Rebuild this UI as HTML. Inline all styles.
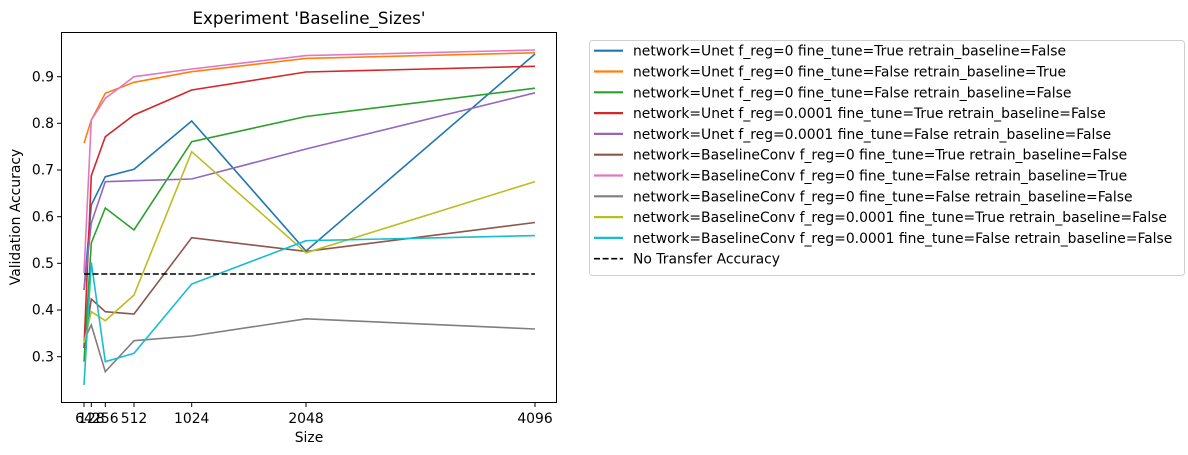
<!DOCTYPE html>
<html><head><meta charset="utf-8"><style>body{margin:0;background:#fff}svg{display:block;font-family:"DejaVu Sans",sans-serif}</style></head><body>
<svg width="1188" height="455" viewBox="0 0 1188 455" xmlns="http://www.w3.org/2000/svg">
<text x="309" y="24" font-size="16.7" text-anchor="middle">Experiment 'Baseline_Sizes'</text>
<g fill="none" stroke-width="1.6">
<polyline stroke="#1f77b4" points="84,290 91.3,205 105.3,176.7 134,169.3 191.7,121 306,251 535,54"/>
<polyline stroke="#ff7f0e" points="84,143.3 91.3,120 105.3,93.3 134,82.3 191.7,71.7 306,58.4 535,52.8"/>
<polyline stroke="#2ca02c" points="84,361.7 91.3,243 105.3,208 134,230 191.7,141.7 306,116.5 535,88.2"/>
<polyline stroke="#d62728" points="84,348 91.3,175.7 105.3,136.7 134,115 191.7,90 306,72 535,66.3"/>
<polyline stroke="#9467bd" points="84,290 91.3,223 105.3,181.7 134,180.7 191.7,179 306,149 535,92.8"/>
<polyline stroke="#8c564b" points="84,348 91.3,299 105.3,311.7 134,314 191.7,237.7 306,251.4 535,222.5"/>
<polyline stroke="#e377c2" points="84,273 91.3,120 105.3,98.3 134,76.7 191.7,69 306,55.6 535,50"/>
<polyline stroke="#7f7f7f" points="84,340 91.3,325 105.3,371.7 134,340.7 191.7,336 306,318.8 535,329"/>
<polyline stroke="#bcbd22" points="84,343 91.3,311.7 105.3,320.7 134,295 191.7,151.7 306,252.8 535,181.6"/>
<polyline stroke="#17becf" points="84,385 91.3,262.3 105.3,361.7 134,353.3 191.7,284 306,240.7 535,235.6"/>
<line x1="84" y1="274" x2="535" y2="274" stroke="#000" stroke-dasharray="6,2.6"/>
</g>
<rect x="61.5" y="32.5" width="495" height="370" fill="none" stroke="#000" stroke-width="1"/>
<g stroke="#000" stroke-width="1">
<line x1="84" y1="403" x2="84" y2="407"/><line x1="91.3" y1="403" x2="91.3" y2="407"/><line x1="105.3" y1="403" x2="105.3" y2="407"/><line x1="134" y1="403" x2="134" y2="407"/><line x1="191.7" y1="403" x2="191.7" y2="407"/><line x1="306" y1="403" x2="306" y2="407"/><line x1="535" y1="403" x2="535" y2="407"/>
<line x1="57" y1="76.7" x2="61" y2="76.7"/><line x1="57" y1="123.3" x2="61" y2="123.3"/><line x1="57" y1="170" x2="61" y2="170"/><line x1="57" y1="216.7" x2="61" y2="216.7"/><line x1="57" y1="263.3" x2="61" y2="263.3"/><line x1="57" y1="310" x2="61" y2="310"/><line x1="57" y1="356.7" x2="61" y2="356.7"/>
</g>
<g font-size="13.9" text-anchor="end">
<text x="54" y="81.5">0.9</text><text x="54" y="128">0.8</text><text x="54" y="174.7">0.7</text><text x="54" y="221.5">0.6</text><text x="54" y="268">0.5</text><text x="54" y="314.7">0.4</text><text x="54" y="361.5">0.3</text>
</g>
<g font-size="13.9" text-anchor="middle">
<text x="84" y="423">64</text><text x="91.3" y="423">128</text><text x="105.3" y="423">256</text><text x="134" y="423">512</text><text x="191.7" y="423">1024</text><text x="306" y="423">2048</text><text x="535" y="423">4096</text>
<text x="309" y="442">Size</text>
<text transform="translate(20,217) rotate(-90)">Validation Accuracy</text>
</g>
<rect x="589.5" y="40.5" width="595" height="235" rx="3" fill="#fff" stroke="#d0d0d0"/>
<g stroke-width="2.2">
<line x1="594" y1="50.7" x2="623" y2="50.7" stroke="#1f77b4"/>
<line x1="594" y1="71.5" x2="623" y2="71.5" stroke="#ff7f0e"/>
<line x1="594" y1="92.3" x2="623" y2="92.3" stroke="#2ca02c"/>
<line x1="594" y1="113.1" x2="623" y2="113.1" stroke="#d62728"/>
<line x1="594" y1="133.9" x2="623" y2="133.9" stroke="#9467bd"/>
<line x1="594" y1="154.7" x2="623" y2="154.7" stroke="#8c564b"/>
<line x1="594" y1="175.5" x2="623" y2="175.5" stroke="#e377c2"/>
<line x1="594" y1="196.3" x2="623" y2="196.3" stroke="#7f7f7f"/>
<line x1="594" y1="217.1" x2="623" y2="217.1" stroke="#bcbd22"/>
<line x1="594" y1="237.9" x2="623" y2="237.9" stroke="#17becf"/>
<line x1="594" y1="258.7" x2="623" y2="258.7" stroke="#000" stroke-dasharray="6,2.6" stroke-width="1.6"/>
</g>
<g font-size="13.9">
<text x="633" y="55.7">network=Unet f_reg=0 fine_tune=True retrain_baseline=False</text>
<text x="633" y="76.5">network=Unet f_reg=0 fine_tune=False retrain_baseline=True</text>
<text x="633" y="97.3">network=Unet f_reg=0 fine_tune=False retrain_baseline=False</text>
<text x="633" y="118.1">network=Unet f_reg=0.0001 fine_tune=True retrain_baseline=False</text>
<text x="633" y="138.9">network=Unet f_reg=0.0001 fine_tune=False retrain_baseline=False</text>
<text x="633" y="159.7">network=BaselineConv f_reg=0 fine_tune=True retrain_baseline=False</text>
<text x="633" y="180.5">network=BaselineConv f_reg=0 fine_tune=False retrain_baseline=True</text>
<text x="633" y="201.3">network=BaselineConv f_reg=0 fine_tune=False retrain_baseline=False</text>
<text x="633" y="222.1">network=BaselineConv f_reg=0.0001 fine_tune=True retrain_baseline=False</text>
<text x="633" y="242.9">network=BaselineConv f_reg=0.0001 fine_tune=False retrain_baseline=False</text>
<text x="633" y="263.7">No Transfer Accuracy</text>
</g>
</svg>
</body></html>
